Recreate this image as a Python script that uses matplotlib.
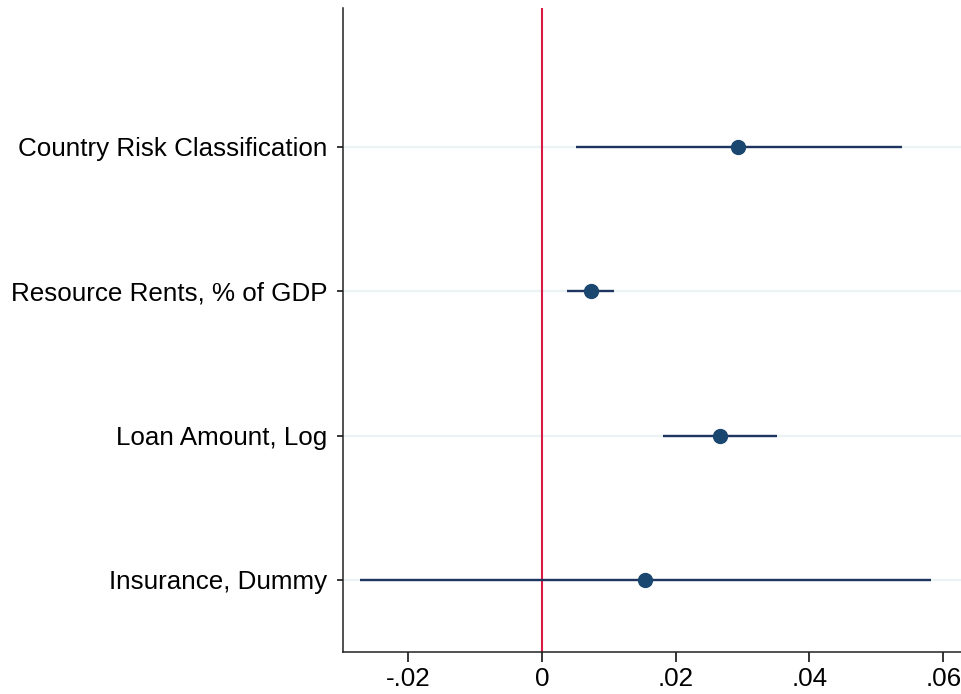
import matplotlib
matplotlib.use('Agg')
import matplotlib.pyplot as plt

plt.rcParams['font.family'] = ['Liberation Sans', 'DejaVu Sans']

# 係數與信賴區間 (由上而下)
labels = ['Country Risk Classification', 'Resource Rents, % of GDP',
          'Loan Amount, Log', 'Insurance, Dummy']
coef = [0.02932, 0.00728, 0.02663, 0.01545]
ci_low = [0.00509, 0.00370, 0.01815, -0.02722]
ci_high = [0.05380, 0.01077, 0.03510, 0.05820]
xticks = [-0.02, 0, 0.02, 0.04, 0.06]
xticklabels = ['-.02', '0', '.02', '.04', '.06']

fig = plt.figure(figsize=(9.62, 6.94), dpi=100)
ax = fig.add_axes([343 / 962, 1 - 652 / 694, 1 - 343 / 962, (652 - 8) / 694])

pos = list(range(1, len(labels) + 1))

# 水平格線
for p in pos:
    ax.axhline(p, color='#eaf2f3', linewidth=1.6, zorder=0)

# 零線
ax.axvline(0, color='#d81b45', linewidth=1.5, zorder=1)

# 信賴區間與點估計
ax.hlines(pos, ci_low, ci_high, color='#1e3560', linewidth=1.7, zorder=2)
ax.plot(coef, pos, 'o', color='#1a476f', markersize=10, zorder=3)

ax.set_xlim(-0.02972, 0.0628)
ax.set_ylim(4.5, 0.037)
ax.set_yticks(pos)
ax.set_yticklabels(labels)
ax.set_xticks(xticks)
ax.set_xticklabels(xticklabels)

for s in ['top', 'right']:
    ax.spines[s].set_visible(False)
for s in ['left', 'bottom']:
    ax.spines[s].set_linewidth(1.1)
    ax.spines[s].set_color('#222222')

ax.tick_params(axis='y', length=4.5, width=1.1, pad=7, labelsize=18.7)
ax.tick_params(axis='x', length=7, width=1.1, pad=3.5, labelsize=18.7)

fig.savefig('out.png', dpi=100)
